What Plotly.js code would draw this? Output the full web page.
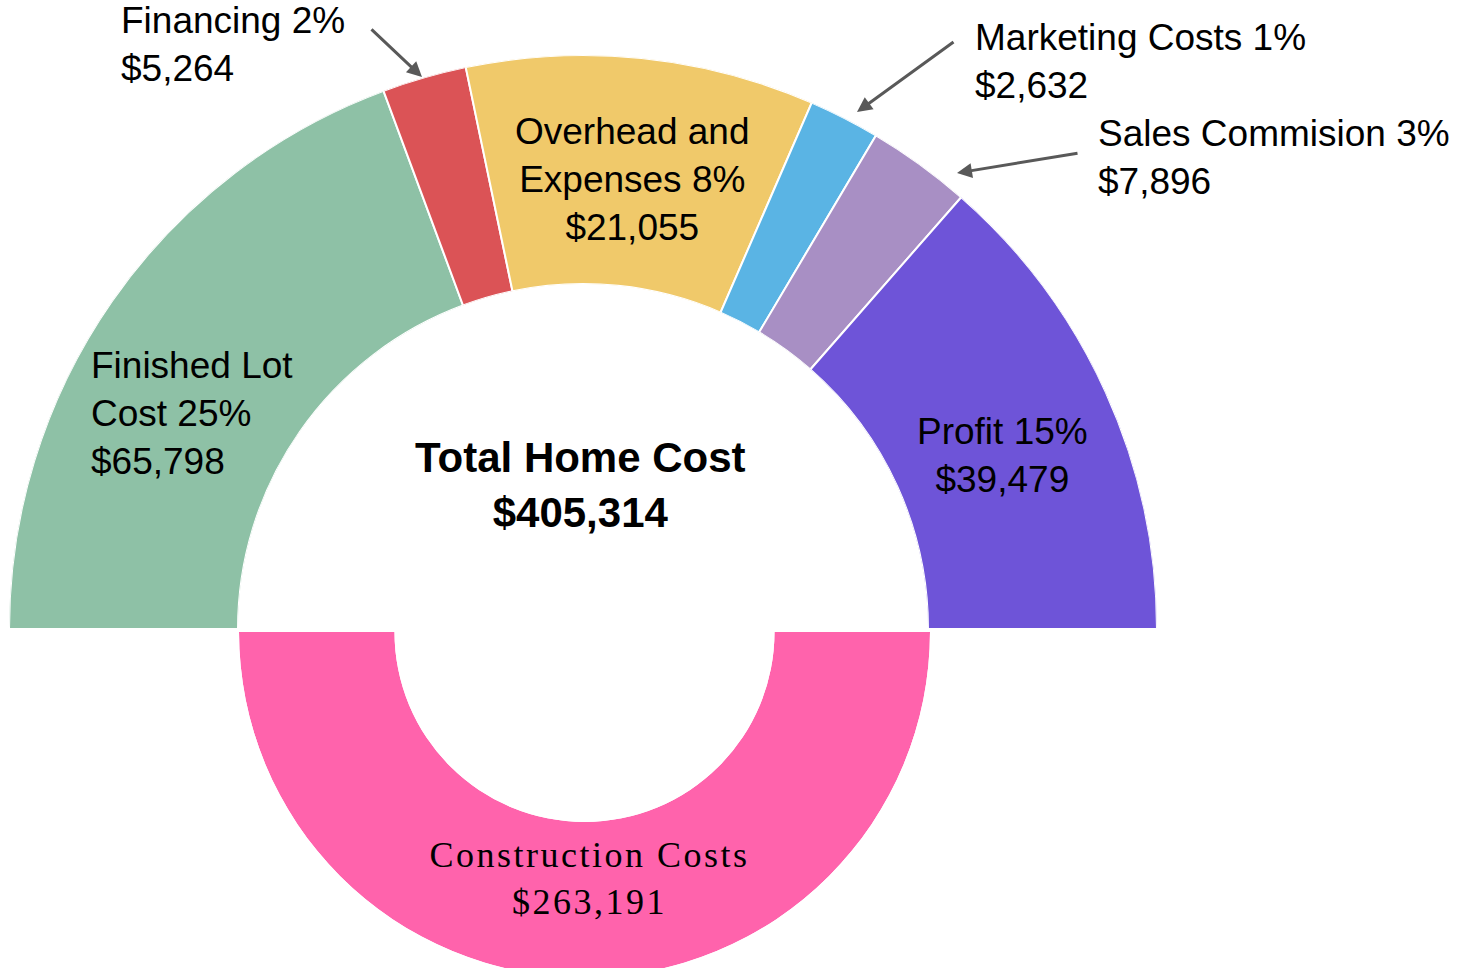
<!DOCTYPE html>
<html>
<head>
<meta charset="utf-8">
<script src="https://cdn.plot.ly/plotly-3.0.1.min.js"></script>
<style>
  html, body { margin: 0; padding: 0; background: #ffffff; }
  #wrap { width: 1479px; height: 968px; overflow: hidden; position: relative; }
  #chart { width: 1479px; height: 980px; }
  .annotation[data-index="7"] text { letter-spacing: 2.5px; }
</style>
</head>
<body>
<div id="wrap"><div id="chart"></div></div>
<script>
// ---- data ----
const categories = ['Finished Lot Cost', 'Financing', 'Overhead and Expenses', 'Marketing Costs', 'Sales Commision', 'Profit'];
const labelNames = ['Finished Lot<br>Cost', 'Financing', 'Overhead and<br>Expenses', 'Marketing Costs', 'Sales Commision', 'Profit'];
const costs = [65798, 5264, 21055, 2632, 7896, 39479];
const percents = [25, 2, 8, 1, 3, 15];
// share of the upper half-ring each slice occupies as drawn (percent)
const arcShare = [38.7, 4.75, 19.6, 4.0, 5.85, 27.1];
const colors = ['#8ec1a6', '#db5356', '#f0c96a', '#5ab4e4', '#a88fc4', '#6e54d8'];
const constructionLabel = 'Construction Costs';
const constructionCost = 263191;
const constructionColor = '#ff63ac';
const totalLabel = 'Total Home Cost';
const totalCost = 405314;

// ---- build ----
const W = 1479, H = 980;
const X = px => px / W;
const Y = py => 1 - py / H;
const fmt = v => '$' + v.toLocaleString('en-US');

const widths = arcShare.map(s => s / 100 * 180);
const thetas = [];
let cum = 0;
widths.forEach(w => { thetas.push(cum + w / 2); cum += w; });

const topRing = {
  type: 'barpolar',
  subplot: 'polar',
  r: categories.map(() => 1),
  theta: thetas,
  width: widths,
  text: categories,
  marker: { color: colors, line: { color: '#ffffff', width: 2 } },
  hoverinfo: 'text',
  showlegend: false
};

const bottomRing = {
  type: 'barpolar',
  subplot: 'polar2',
  r: [1],
  theta: [270],
  width: [180],
  text: [constructionLabel],
  marker: { color: [constructionColor], line: { color: '#ffffff', width: 0 } },
  hoverinfo: 'text',
  showlegend: false
};

const sans = 'Liberation Sans, Arial, Helvetica, sans-serif';
const serif = 'Liberation Serif, Times New Roman, serif';
const lbl = i => labelNames[i] + ' ' + percents[i] + '%<br>' + fmt(costs[i]);

function textAnn(text, px, py, xanchor, align, font) {
  return {
    xref: 'paper', yref: 'paper', x: X(px), y: Y(py),
    xanchor: xanchor, yanchor: 'middle', align: align,
    text: text, showarrow: false, font: font
  };
}
function arrowAnn(tipx, tipy, tailx, taily) {
  return {
    xref: 'paper', yref: 'paper', x: X(tipx), y: Y(tipy),
    axref: 'pixel', ayref: 'pixel', ax: tailx - tipx, ay: taily - tipy,
    text: '', showarrow: true, arrowhead: 2, arrowsize: 1, arrowwidth: 3,
    arrowcolor: '#595959', standoff: 0, startstandoff: 0
  };
}

const lf = { family: sans, size: 37, color: '#000000' };
const annotations = [
  textAnn(lbl(1), 119, 45, 'left', 'left', lf),            // 0 Financing
  textAnn(lbl(3), 973, 62, 'left', 'left', lf),            // 1 Marketing
  textAnn(lbl(4), 1096, 158, 'left', 'left', lf),          // 2 Sales
  textAnn(lbl(2), 632, 180, 'center', 'center', lf),       // 3 Overhead
  textAnn(lbl(0), 89, 413, 'left', 'left', lf),            // 4 Finished lot
  textAnn(lbl(5), 1003, 455, 'center', 'center', lf),      // 5 Profit
  textAnn('<b>' + totalLabel + '</b><br><b>' + fmt(totalCost) + '</b>', 580, 485, 'center', 'center',
          { family: sans, size: 42, color: '#000000' }),    // 6 Total
  textAnn(constructionLabel + '<br>' + fmt(constructionCost), 589, 878, 'center', 'center',
          { family: serif, size: 36, color: '#000000' }),   // 7 Construction
  arrowAnn(422, 77, 370, 28),
  arrowAnn(857, 112, 955, 41),
  arrowAnn(957, 173, 1079, 153)
];

const layout = {
  width: W, height: H,
  margin: { l: 0, r: 0, t: 0, b: 0, pad: 0 },
  paper_bgcolor: '#ffffff',
  showlegend: false,
  polar: {
    domain: { x: [X(9), X(1157)], y: [Y(629), Y(55)] },
    sector: [0, 180],
    hole: 345 / 574,
    bgcolor: 'rgba(0,0,0,0)',
    angularaxis: { visible: false, rotation: 180, direction: 'clockwise', showgrid: false, showline: false, ticks: '' },
    radialaxis: { visible: false, range: [0, 1], showgrid: false, showline: false, ticks: '' }
  },
  polar2: {
    domain: { x: [X(239), X(930)], y: [Y(977.5), Y(632)] },
    sector: [180, 360],
    hole: 190 / 345.5,
    bgcolor: 'rgba(0,0,0,0)',
    angularaxis: { visible: false, rotation: 0, direction: 'counterclockwise', showgrid: false, showline: false, ticks: '' },
    radialaxis: { visible: false, range: [0, 1], showgrid: false, showline: false, ticks: '' }
  },
  annotations: annotations
};

Plotly.newPlot('chart', [topRing, bottomRing], layout, { displayModeBar: false, staticPlot: true });
</script>
</body>
</html>
